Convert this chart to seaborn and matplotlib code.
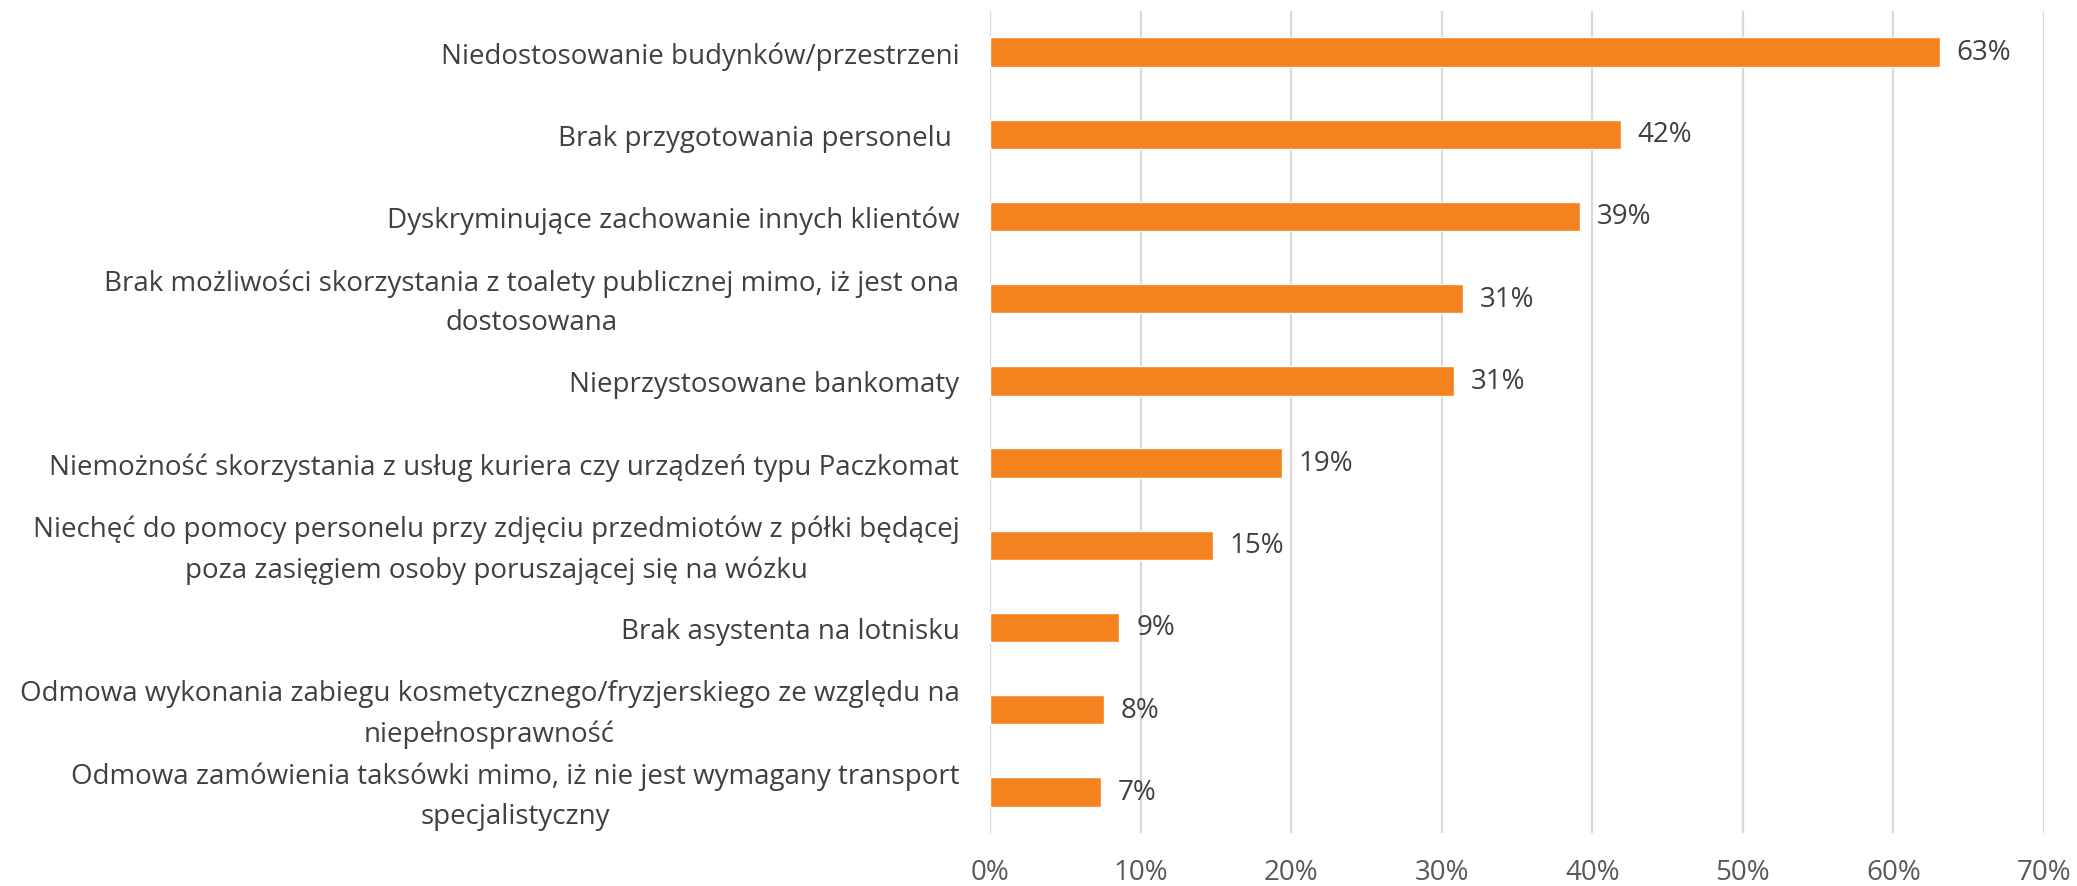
import matplotlib
matplotlib.use("Agg")
import matplotlib.pyplot as plt
import matplotlib.transforms as mtransforms
import seaborn as sns
import pandas as pd

categories = [
    "Niedostosowanie budynków/przestrzeni",
    "Brak przygotowania personelu ",
    "Dyskryminujące zachowanie innych klientów",
    "Brak możliwości skorzystania z toalety publicznej mimo, iż jest ona\ndostosowana",
    "Nieprzystosowane bankomaty",
    "Niemożność skorzystania z usług kuriera czy urządzeń typu Paczkomat",
    "Niechęć do pomocy personelu przy zdjęciu przedmiotów z półki będącej\npoza zasięgiem osoby poruszającej się na wózku",
    "Brak asystenta na lotnisku",
    "Odmowa wykonania zabiegu kosmetycznego/fryzjerskiego ze względu na\nniepełnosprawność",
    "Odmowa zamówienia taksówki mimo, iż nie jest wymagany transport\nspecjalistyczny",
]
values = [63.1, 41.9, 39.2, 31.4, 30.8, 19.4, 14.8, 8.6, 7.6, 7.4]
value_labels = ["63%", "42%", "39%", "31%", "31%", "19%", "15%", "9%", "8%", "7%"]
x_ticks = [0, 10, 20, 30, 40, 50, 60, 70]
x_tick_labels = ["0%", "10%", "20%", "30%", "40%", "50%", "60%", "70%"]

sns.set_theme(style="white")
plt.rcParams["font.family"] = ["Open Sans", "DejaVu Sans"]

df = pd.DataFrame({"category": categories, "value": values})

fig = plt.figure(figsize=(20.77, 8.87), dpi=100)
ax = fig.add_axes([990 / 2077, 1 - 834 / 887, (2044 - 990) / 2077, (834 - 12) / 887])

sns.barplot(data=df, x="value", y="category", orient="h", color="#F4821F",
            saturation=1, width=0.36, ax=ax, zorder=3)

ax.set_xlim(0, 70)
ax.set_xticks(x_ticks)
ax.set_xticklabels(x_tick_labels)
ax.xaxis.grid(True, color="#D9D9D9", linewidth=1.6, zorder=0)
ax.yaxis.grid(False)
ax.set_axisbelow(True)
for s in ax.spines.values():
    s.set_visible(False)
ax.set_xlabel("")
ax.set_ylabel("")
ax.tick_params(axis="x", length=0, pad=18, labelsize=20, labelcolor="#595959")
ax.tick_params(axis="y", length=0, pad=22, labelsize=20, labelcolor="#404040")
shift = mtransforms.ScaledTranslation(0, 4 / 72, fig.dpi_scale_trans)
for t in ax.get_yticklabels():
    t.set_multialignment("center")
    t.set_linespacing(1.55)
    if "\n" in t.get_text():
        t.set_transform(t.get_transform() + shift)

for i, (v, lab) in enumerate(zip(values, value_labels)):
    ax.annotate(lab, xy=(v, i), xytext=(12, 0), textcoords="offset points",
                ha="left", va="center", fontsize=20, color="#404040")

fig.savefig("out.png", dpi=100)
